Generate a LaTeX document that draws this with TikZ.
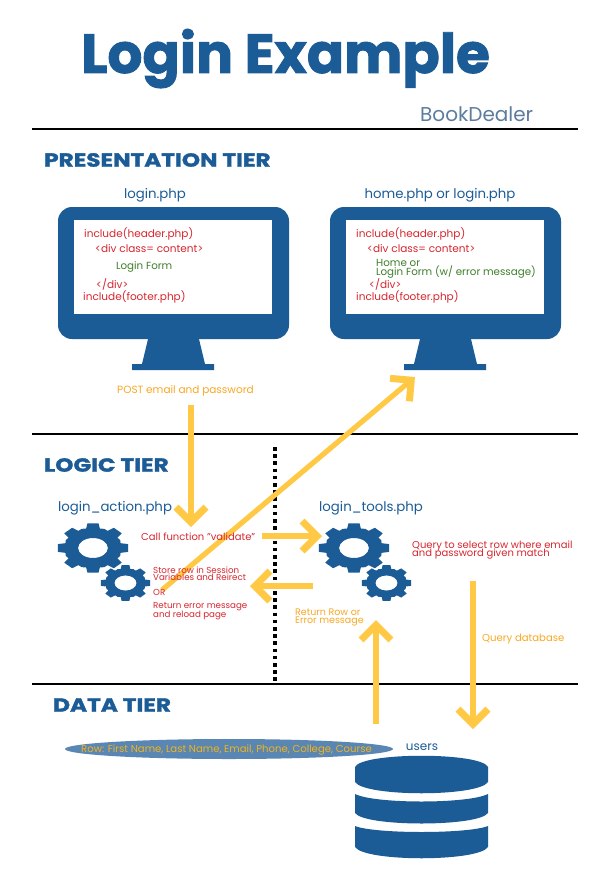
\documentclass[tikz,border=0pt]{standalone}
\usepackage{fontspec}
\setmainfont{Poppins}
\newfontfamily\heavy[BoldFeatures={FakeBold=1.6}]{Poppins}
\newfontfamily\heavywide[BoldFeatures={FakeBold=1.6,FakeStretch=1.22}]{Poppins}
\usetikzlibrary{arrows.meta,shapes.geometric}
\definecolor{navy}{HTML}{1B5C97}
\definecolor{amber}{HTML}{FFC845}
\definecolor{orangetxt}{HTML}{F9A825}
\definecolor{redtxt}{HTML}{D7262F}
\definecolor{greentxt}{HTML}{3F7F2B}
\definecolor{greyblue}{HTML}{5C7D9E}
\definecolor{rowblue}{HTML}{5A86B4}
\definecolor{rowtxt}{HTML}{F2B318}
\newcommand{\monitor}[1]{%
  \begin{scope}[xshift=#1]
    \fill[navy,rounded corners=14pt] (58,207) rectangle (289,339);
    \fill[navy] (149,335) -- (198,335) -- (205,364) -- (214,364) -- (214,370) -- (132,370) -- (132,364) -- (142,364) -- cycle;
    \fill[white] (74,220) rectangle (272,314);
  \end{scope}}
\newcommand{\gearshape}[6]{%
  \fill[navy,even odd rule,x=#3pt,y=#4pt,shift={(#1pt,-#2pt)}]
    (-14:.8)
    \foreach \a in {0,45,...,315} {
      -- ({\a-14}:.8) -- ({\a-9}:1) -- ({\a+9}:1) -- ({\a+14}:.8)
      -- ({\a+22.5}:.83)
    } -- cycle
    (0,0) ellipse [x radius=#5,y radius=#6];}
\tikzset{
  x=1pt,y=-1pt,
  txt/.style={inner sep=0pt,anchor=west,yshift=-1pt,font=\fontsize{#1}{#1}\selectfont},
  tier/.style={inner sep=0pt,anchor=west,text=navy,font=\fontsize{19}{19}\selectfont\heavywide\bfseries},
  file/.style={inner sep=0pt,yshift=-1.5pt,text=navy,font=\fontsize{13.3}{13.3}\selectfont},
  code/.style={txt=10.5,text=redtxt},
  form/.style={txt=10.3,text=greentxt},
  note/.style={txt=8.7,text=redtxt},
  call/.style={txt=10,text=redtxt},
  gold/.style={txt=#1,text=orangetxt},
  rule/.style={line width=2.4pt,black},
  flow/.style={amber,line width=5.2pt,-{Straight Barb[length=15pt,width=31pt,line width=7pt,angle'=90]}},
}
\begin{document}
\begin{tikzpicture}
\useasboundingbox[fill=white] (0,0) rectangle (610,872);
% rules
\coordinate (r1a) at (32,129); \coordinate (r1b) at (578,129);
\coordinate (r2a) at (32,434); \coordinate (r2b) at (578,434);
\coordinate (r3a) at (32,684); \coordinate (r3b) at (578,684);
\draw[rule] (r1a) -- (r1b);
\draw[rule] (r2a) -- (r2b);
\draw[rule] (r3a) -- (r3b);
\coordinate (sepa) at (275,447); \coordinate (sepb) at (275,683);
\draw[black,line width=3.6pt,dash pattern=on 3.6pt off 3.6pt] (sepa) -- (sepb);
% monitors
\monitor{0pt}
\monitor{272pt}
% gears
\gearshape{93}{548}{35.5}{25}{.42}{.40}
\gearshape{125.5}{583}{25}{18}{.44}{.42}
\gearshape{354}{548}{35.5}{25}{.42}{.40}
\gearshape{386.5}{583}{25}{18}{.44}{.42}
% database
\fill[navy] (355,767) .. controls (362,752) and (481,752) .. (488,767) -- (488,782) .. controls (478,797) and (365,797) .. (355,782) -- cycle;
\fill[navy] (355,794) .. controls (375,804) and (468,804) .. (488,794) -- (488,813) .. controls (478,827) and (365,827) .. (355,813) -- cycle;
\fill[navy] (355,826) .. controls (375,834) and (468,834) .. (488,826) -- (488,847) .. controls (478,862) and (365,862) .. (355,847) -- cycle;
% arrows
\coordinate (a1s) at (191,405); \coordinate (a1e) at (191,527);
\coordinate (a2s) at (162,590); \coordinate (a2e) at (415,377);
\coordinate (a3s) at (262,536); \coordinate (a3e) at (322,536);
\coordinate (a4s) at (313,586); \coordinate (a4e) at (250,586);
\coordinate (a5s) at (376,724); \coordinate (a5e) at (376,620);
\coordinate (a6s) at (473,581); \coordinate (a6e) at (473,729);
\draw[flow] (a1s) -- (a1e);
\draw[flow] (a2s) -- (a2e);
\draw[flow] (a3s) -- (a3e);
\draw[flow] (a4s) -- (a4e);
\draw[flow] (a5s) -- (a5e);
\draw[flow] (a6s) -- (a6e);
% heading
\node[inner sep=0pt,anchor=base west,text=navy,font=\fontsize{55}{55}\selectfont\heavy\bfseries] (title) at (81,73) {Login Example};
\node[txt=20,text=greyblue] (brand) at (420,113) {BookDealer};
\node[tier] (t1) at (44,160) {PRESENTATION TIER};
\node[tier] (t2) at (44,465) {LOGIC TIER};
\node[tier] (t3) at (53,705) {DATA TIER};
\node[file] (f1) at (155,194) {login.php};
\node[file] (f2) at (440,194) {home.php or login.php};
% left screen
\node[code] (l1) at (84,233) {include(header.php)};
\node[code] (l2) at (95,248) {<div class= content>};
\node[form] (l3) at (116,266) {Login Form};
\node[code] (l4) at (96,283) {</div>};
\node[code] (l5) at (83,296) {include(footer.php)};
% right screen
\node[code] (m1) at (356,233) {include(header.php)};
\node[code] (m2) at (367,248) {<div class= content>};
\node[form] (m3) at (376,262) {Home or};
\node[form] (m4) at (376,271) {Login Form (w/ error message)};
\node[code] (m5) at (369,283) {</div>};
\node[code] (m6) at (356,296) {include(footer.php)};
\node[gold=10.5] (post) at (117,390) {POST email and password};
% logic
\node[file,anchor=west] (g1) at (58,507) {login\_action.php};
\node[file,anchor=west] (g2) at (319,507) {login\_tools.php};
\node[call] (cf) at (141,536) {Call function "validate"};
\node[note] (n1) at (153,569) {Store row in Session};
\node[note] (n2) at (153,576.5) {Variables and Reirect};
\node[note] (n3) at (153,591) {OR};
\node[note] (n4) at (153,606) {Return error message};
\node[note] (n5) at (153,614) {and reload page};
\node[call] (q1) at (412,545) {Query to select row where email};
\node[call] (q2) at (412,553.5) {and password given match};
\node[gold=9.5] (ret1) at (295,611) {Return Row or};
\node[gold=9.5] (ret2) at (295,620) {Error message};
\node[gold=10.1] (qd) at (482,638) {Query database};
% data
\node[fill=rowblue,draw=none,shape=ellipse,minimum width=328pt,minimum height=20pt,inner sep=0pt] (row) at (229,749) {};
\node[txt=10.1,text=rowtxt] (rowt) at (81,749) {Row: First Name, Last Name, Email, Phone, College, Course};
\node[inner sep=0pt,yshift=-1pt,text=navy,font=\fontsize{12}{12}\selectfont] (users) at (422,746) {users};
\end{tikzpicture}
\end{document}
